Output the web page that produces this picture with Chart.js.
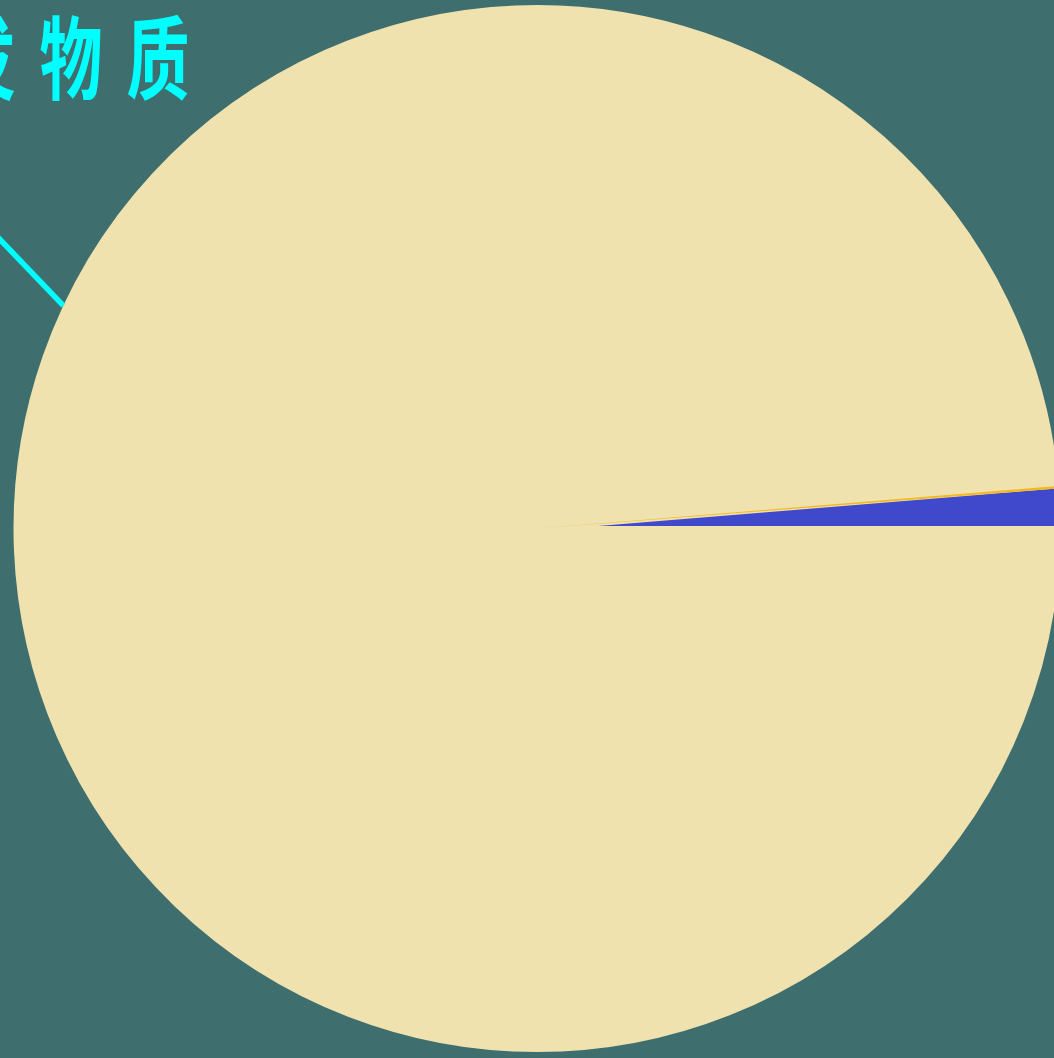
<!DOCTYPE html>
<html>
<head>
<meta charset="utf-8">
<script src="https://cdn.jsdelivr.net/npm/chart.js@4"></script>
<style>
    html, body { margin: 0; padding: 0; background: #3e6e6e; }
    #wrap { width: 1054px; height: 1058px; }
</style>
</head>
<body>
<div id="wrap"><canvas id="pieChart" width="1054" height="1058"></canvas></div>
<script>
// slices in drawing order (clockwise from the blue one)
const labels = ['水分', '挥发物质', '其他'];
const values = [1.22, 98.70, 0.08];
const colors = ['#4048cc', '#efe2af', '#f5b81e'];

const labelText = '挥发物质';
const labelIndex = 1;

const total = values.reduce((a, b) => a + b, 0);
// blue slice ends exactly at 3 o'clock
const rotation = 90 - 360 * values[0] / total;

const calloutPlugin = {
    id: 'callout',
    afterDraw(chart) {
        const ctx = chart.ctx;
        const arc = chart.getDatasetMeta(0).data[labelIndex];
        const r = arc.outerRadius + 2.5;
        const ang = 205.2 * Math.PI / 180;
        const ex = arc.x + Math.cos(ang) * r;
        const ey = arc.y + Math.sin(ang) * r;

        ctx.save();
        ctx.strokeStyle = '#00ffff';
        ctx.lineWidth = 5.5;
        ctx.beginPath();
        ctx.moveTo(ex, ey);
        ctx.lineTo(ex - 90, ey - 94);
        ctx.stroke();

        ctx.fillStyle = '#00ffff';
        ctx.font = 'bold 90px "Noto Sans CJK SC"';
        ctx.textAlign = 'center';
        ctx.textBaseline = 'middle';
        const chars = Array.from(labelText);
        const lastX = 158, pitch = 87;
        chars.forEach((ch, i) => {
            const cx = lastX - (chars.length - 1 - i) * pitch;
            ctx.save();
            ctx.translate(cx, 58);
            ctx.scale(0.7, 1);
            ctx.fillText(ch, 0, 0);
            ctx.restore();
        });
        ctx.restore();
    }
};

const chart = new Chart(document.getElementById('pieChart').getContext('2d'), {
    type: 'pie',
    data: {
        labels: labels,
        datasets: [{
            data: values,
            backgroundColor: colors,
            borderColor: '#efe2af',
            borderWidth: [0, 5, 0],
            borderJoinStyle: 'round',
            clip: false
        }]
    },
    options: {
        responsive: false,
        animation: false,
        rotation: rotation,
        radius: 521,
        layout: { padding: { left: 20, bottom: 1 } },
        plugins: {
            legend: { display: false },
            tooltip: { enabled: false }
        }
    },
    plugins: [calloutPlugin]
});
</script>
</body>
</html>
